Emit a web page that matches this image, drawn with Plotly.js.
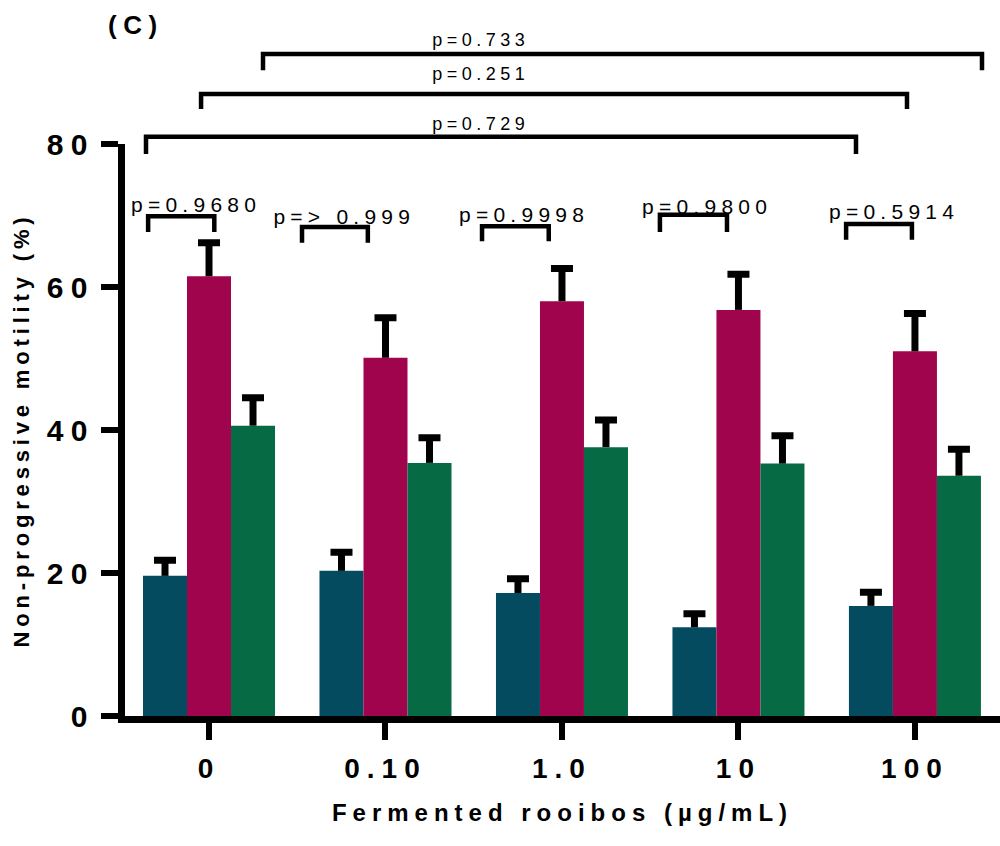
<!DOCTYPE html>
<html>
<head>
<meta charset="utf-8">
<script src="https://cdn.plot.ly/plotly-3.0.1.min.js"></script>
<style>
  html, body { margin: 0; padding: 0; background: #fff; }
  #chart { width: 1000px; height: 846px; }
  .main-svg text { letter-spacing: 0.25em; }
  .main-svg .g-ytitle text { letter-spacing: 0.22em; }
</style>
</head>
<body>
<div id="chart"></div>
<script>
// ---- data ----
const categories = ['0', '0.10', '1.0', '10', '100'];
const seriesNames = ['Group 1', 'Group 2', 'Group 3'];
const blueValues = [19.6, 20.3, 17.2, 12.4, 15.4];
const blueErrors = [2.2, 2.6, 2.0, 1.9, 1.9];
const redValues = [61.5, 50.1, 58.0, 56.8, 51.0];
const redErrors = [4.7, 5.6, 4.6, 5.0, 5.3];
const greenValues = [40.6, 35.4, 37.6, 35.3, 33.6];
const greenErrors = [3.9, 3.5, 3.8, 3.9, 3.7];
const withinLabels = ['p=0.9680', 'p=> 0.999', 'p=0.9998', 'p=0.9800', 'p=0.5914'];
const acrossLabels = ['p=0.729', 'p=0.251', 'p=0.733'];

// ---- layout of the comparison brackets (positions in category index / data units) ----
const X_RANGE = [-0.476, 4.482];
const Y_RANGE = [0, 80];
const withinBrackets = [
  {dx1: -0.345, dx2: 0.03, y: 69.9, leg: 67.7, tdx: -0.076, ty: 71.6},
  {dx1: -0.473, dx2: -0.10, y: 68.4, leg: 66.2, tdx: -0.235, ty: 69.8},
  {dx1: -0.453, dx2: -0.075, y: 68.5, leg: 66.4, tdx: -0.215, ty: 70.1},
  {dx1: -0.445, dx2: -0.065, y: 70.1, leg: 67.7, tdx: -0.176, ty: 71.2},
  {dx1: -0.39, dx2: -0.017, y: 68.8, leg: 66.6, tdx: -0.116, ty: 70.5}
];
const acrossBrackets = [
  {x1: -0.357, x2: 3.666, y: 81.0, leg: 78.6, tx: 1.54, ty: 82.8},
  {x1: -0.045, x2: 3.955, y: 87.0, leg: 84.9, tx: 1.54, ty: 89.8},
  {x1: 0.306, x2: 4.38, y: 92.6, leg: 90.3, tx: 1.54, ty: 94.6}
];

const colors = ['#044B60', '#A0044C', '#066A44'];
const FONT = 'Liberation Sans, Arial, sans-serif';

function xp(i) { return (i - X_RANGE[0]) / (X_RANGE[1] - X_RANGE[0]); }
function yp(v) { return (v - Y_RANGE[0]) / (Y_RANGE[1] - Y_RANGE[0]); }

// visible bar with the error stem only (no caps)
function barTrace(name, values, errors, color, group) {
  return {
    type: 'bar', name: name, x: categories, y: values, offsetgroup: group,
    marker: {color: color, line: {width: 0}},
    error_y: {type: 'data', symmetric: false, array: errors,
              arrayminus: errors.map(() => 0), color: '#000', thickness: 7, width: 0},
    showlegend: false, hoverinfo: 'x+y'
  };
}
// transparent bar in the same slot, only carrying the cap at value + error
function capTrace(name, values, errors, group) {
  return {
    type: 'bar', name: name + ' cap', x: categories,
    y: values.map((v, i) => v + errors[i]), offsetgroup: group,
    marker: {color: 'rgba(0,0,0,0)', line: {width: 0}},
    error_y: {type: 'constant', value: 0.0001, color: '#000', thickness: 7, width: 11},
    showlegend: false, hoverinfo: 'skip'
  };
}

const traces = [
  barTrace(seriesNames[0], blueValues, blueErrors, colors[0], 'a'),
  barTrace(seriesNames[1], redValues, redErrors, colors[1], 'b'),
  barTrace(seriesNames[2], greenValues, greenErrors, colors[2], 'c'),
  capTrace(seriesNames[0], blueValues, blueErrors, 'a'),
  capTrace(seriesNames[1], redValues, redErrors, 'b'),
  capTrace(seriesNames[2], greenValues, greenErrors, 'c')
];

const shapes = [];
const annotations = [];
function bracket(x1, x2, y, leg) {
  shapes.push({
    type: 'path', xref: 'paper', yref: 'paper',
    path: 'M' + xp(x1) + ',' + yp(leg) + ' L' + xp(x1) + ',' + yp(y) +
          ' L' + xp(x2) + ',' + yp(y) + ' L' + xp(x2) + ',' + yp(leg),
    line: {color: '#000', width: 4.5}
  });
}
withinBrackets.forEach((b, k) => {
  bracket(k + b.dx1, k + b.dx2, b.y, b.leg);
  annotations.push({xref: 'paper', yref: 'paper', x: xp(k + b.tdx), y: yp(b.ty),
    xanchor: 'center', yanchor: 'middle', showarrow: false, text: withinLabels[k],
    font: {family: FONT, size: 21, color: '#000'}});
});
acrossBrackets.forEach((b, k) => {
  bracket(b.x1, b.x2, b.y, b.leg);
  annotations.push({xref: 'paper', yref: 'paper', x: xp(b.tx), y: yp(b.ty),
    xanchor: 'center', yanchor: 'middle', showarrow: false, text: acrossLabels[k],
    font: {family: FONT, size: 18, color: '#000'}});
});

const layout = {
  width: 1000, height: 846,
  margin: {l: 125, r: 0, t: 144, b: 130},
  paper_bgcolor: '#fff', plot_bgcolor: '#fff',
  barmode: 'group', bargap: 0.252, bargroupgap: 0,
  title: {text: '<b>(C)</b>', xref: 'container', yref: 'container', x: 0.108, xanchor: 'left',
          y: 0.971, yanchor: 'middle', font: {family: FONT, size: 26, color: '#000'}},
  xaxis: {
    type: 'category', range: X_RANGE, showgrid: false, zeroline: false,
    showline: true, linewidth: 7, linecolor: '#000',
    ticks: 'outside', ticklen: 17, tickwidth: 6, tickcolor: '#000',
    tickfont: {family: FONT, size: 28, color: '#000', weight: 'bold'},
    ticklabelstandoff: 4,
    title: {text: 'Fermented rooibos (µg/mL)', standoff: 24,
            font: {family: FONT, size: 24, color: '#000', weight: 'bold'}},
    automargin: false, fixedrange: true
  },
  yaxis: {
    range: Y_RANGE, showgrid: false, zeroline: false,
    showline: true, linewidth: 7, linecolor: '#000',
    tickvals: [0, 20, 40, 60, 80], ticktext: ['0', '20', '40', '60', '80'],
    ticks: 'outside', ticklen: 17, tickwidth: 6, tickcolor: '#000',
    tickfont: {family: FONT, size: 30, color: '#000', weight: 'bold'},
    title: {text: 'Non-progressive motility (%)', standoff: 28,
            font: {family: FONT, size: 22, color: '#000', weight: 'bold'}},
    automargin: false, fixedrange: true
  },
  shapes: shapes,
  annotations: annotations
};

Plotly.newPlot('chart', traces, layout, {displayModeBar: false, staticPlot: true});
</script>
</body>
</html>
